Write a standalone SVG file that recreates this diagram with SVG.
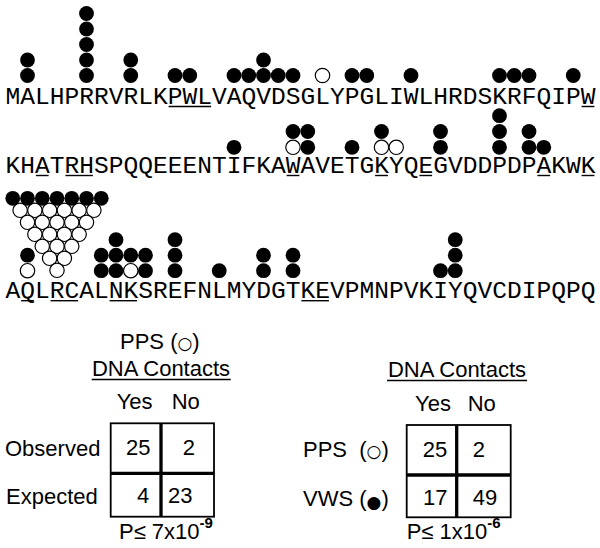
<svg xmlns="http://www.w3.org/2000/svg" width="600" height="548" viewBox="0 0 600 548">
<defs>
<style>
.seq{font-family:"Liberation Mono","DejaVu Sans Mono",monospace;font-size:24.58px;fill:#000}
.lab{font-family:"Liberation Sans",Arial,sans-serif;font-size:22px;fill:#000}
.sym{font-family:"DejaVu Sans",sans-serif;font-size:17px}
.sup{font-family:"Liberation Sans",Arial,sans-serif;font-size:15px;font-weight:bold}
.f{fill:#000}
.o{fill:#fff;stroke:#000;stroke-width:1.2}
.ul{stroke:#000;stroke-width:1.4}
.box{fill:none;stroke:#000;stroke-width:1.8}
.div{stroke:#000;stroke-width:3.3}
</style>
</defs>
<rect width="600" height="548" fill="#fff"/>

<g id="row1">
<text class="seq" x="5.375" y="104" textLength="590" lengthAdjust="spacing">MALHPRRVRLKPWLVAQVDSGLYPGLIWLHRDSKRFQIPW</text>
<g class="ul">
<line x1="168.6" y1="106.5" x2="211.1" y2="106.5"/>
<line x1="581.6" y1="106.5" x2="594.4" y2="106.5"/>
</g>
<g class="f">
<circle cx="27.5" cy="75.5" r="7.4"/><circle cx="27.5" cy="60" r="7.4"/>
<circle cx="86.5" cy="75.5" r="7.4"/><circle cx="86.5" cy="60" r="7.4"/><circle cx="86.5" cy="44.5" r="7.4"/><circle cx="86.5" cy="29" r="7.4"/><circle cx="86.5" cy="13.5" r="7.4"/>
<circle cx="130.75" cy="75.5" r="7.4"/><circle cx="130.75" cy="60" r="7.4"/>
<circle cx="175" cy="75.5" r="7.4"/><circle cx="189.75" cy="75.5" r="7.4"/>
<circle cx="234" cy="75.5" r="7.4"/><circle cx="248.75" cy="75.5" r="7.4"/><circle cx="263.5" cy="75.5" r="7.4"/><circle cx="263.5" cy="60" r="7.4"/><circle cx="278.25" cy="75.5" r="7.4"/><circle cx="293" cy="75.5" r="7.4"/>
<circle cx="352" cy="75.5" r="7.4"/><circle cx="366.75" cy="75.5" r="7.4"/>
<circle cx="411" cy="75.5" r="7.4"/>
<circle cx="499.5" cy="75.5" r="7.4"/><circle cx="514.25" cy="75.5" r="7.4"/><circle cx="529" cy="75.5" r="7.4"/>
<circle cx="573.25" cy="75.5" r="7.4"/>
</g>
<g class="o">
<circle cx="322.5" cy="75.5" r="7.2"/>
</g>
</g>

<g id="row2">
<text class="seq" x="5.375" y="173" textLength="590" lengthAdjust="spacing">KHATRHSPQQEEENTIFKAWAVETGKYQEGVDDPDPAKWK</text>
<g class="ul">
<line x1="35.9" y1="175.5" x2="48.6" y2="175.5"/>
<line x1="65.4" y1="175.5" x2="92.9" y2="175.5"/>
<line x1="286.6" y1="175.5" x2="299.4" y2="175.5"/>
<line x1="375.1" y1="175.5" x2="387.9" y2="175.5"/>
<line x1="419.4" y1="175.5" x2="432.1" y2="175.5"/>
<line x1="537.4" y1="175.5" x2="550.1" y2="175.5"/>
<line x1="581.6" y1="175.5" x2="594.4" y2="175.5"/>
</g>
<g class="f">
<circle cx="234" cy="147.3" r="7.4"/>
<circle cx="293" cy="131.5" r="7.4"/>
<circle cx="307.75" cy="147.3" r="7.4"/><circle cx="307.75" cy="131.5" r="7.4"/>
<circle cx="352" cy="147.3" r="7.4"/>
<circle cx="381.5" cy="131.5" r="7.4"/>
<circle cx="440.5" cy="147.3" r="7.4"/><circle cx="440.5" cy="131.5" r="7.4"/>
<circle cx="499.5" cy="147.3" r="7.4"/><circle cx="499.5" cy="131.5" r="7.4"/><circle cx="499.5" cy="115.7" r="7.4"/>
<circle cx="529" cy="147.3" r="7.4"/><circle cx="529" cy="131.5" r="7.4"/>
<circle cx="543.75" cy="147.3" r="7.4"/>
</g>
<g class="o">
<circle cx="293" cy="147.3" r="7.2"/>
<circle cx="381.5" cy="147.3" r="7.2"/>
<circle cx="396.25" cy="147.3" r="7.2"/>
</g>
</g>

<g id="row3">
<text class="seq" x="5.375" y="298" textLength="590" lengthAdjust="spacing">AQLRCALNKSREFNLMYDGTKEVPMNPVKIYQVCDIPQPQ</text>
<g class="ul">
<line x1="21.1" y1="300.7" x2="33.9" y2="300.7"/>
<line x1="50.6" y1="300.7" x2="78.1" y2="300.7"/>
<line x1="109.6" y1="300.7" x2="137.1" y2="300.7"/>
<line x1="301.4" y1="300.7" x2="328.9" y2="300.7"/>
</g>
<g class="o">
<circle cx="20.125" cy="210.3" r="7.2"/><circle cx="34.875" cy="210.3" r="7.2"/><circle cx="49.625" cy="210.3" r="7.2"/><circle cx="64.375" cy="210.3" r="7.2"/><circle cx="79.125" cy="210.3" r="7.2"/><circle cx="93.875" cy="210.3" r="7.2"/>
<circle cx="27.5" cy="222.3" r="7.2"/><circle cx="42.25" cy="222.3" r="7.2"/><circle cx="57" cy="222.3" r="7.2"/><circle cx="71.75" cy="222.3" r="7.2"/><circle cx="86.5" cy="222.3" r="7.2"/>
<circle cx="34.875" cy="234.3" r="7.2"/><circle cx="49.625" cy="234.3" r="7.2"/><circle cx="64.375" cy="234.3" r="7.2"/><circle cx="79.125" cy="234.3" r="7.2"/>
<circle cx="42.25" cy="246.3" r="7.2"/><circle cx="57" cy="246.3" r="7.2"/><circle cx="71.75" cy="246.3" r="7.2"/>
<circle cx="49.625" cy="258.3" r="7.2"/><circle cx="64.375" cy="258.3" r="7.2"/>
<circle cx="57" cy="270.3" r="7.2"/>
<circle cx="27.5" cy="270.7" r="7.2"/>
<circle cx="130.75" cy="270.7" r="7.2"/>
</g>
<g class="f">
<circle cx="12.75" cy="198.3" r="7.4"/><circle cx="27.5" cy="198.3" r="7.4"/><circle cx="42.25" cy="198.3" r="7.4"/><circle cx="57" cy="198.3" r="7.4"/><circle cx="71.75" cy="198.3" r="7.4"/><circle cx="86.5" cy="198.3" r="7.4"/><circle cx="101.25" cy="198.3" r="7.4"/>
<circle cx="27.5" cy="255.2" r="7.4"/>
<circle cx="101.25" cy="270.7" r="7.4"/><circle cx="101.25" cy="255.2" r="7.4"/>
<circle cx="116" cy="270.7" r="7.4"/><circle cx="116" cy="255.2" r="7.4"/><circle cx="116" cy="239.7" r="7.4"/>
<circle cx="130.75" cy="255.2" r="7.4"/>
<circle cx="145.5" cy="270.7" r="7.4"/><circle cx="145.5" cy="255.2" r="7.4"/>
<circle cx="175" cy="270.7" r="7.4"/><circle cx="175" cy="255.2" r="7.4"/><circle cx="175" cy="239.7" r="7.4"/>
<circle cx="219.25" cy="270.7" r="7.4"/>
<circle cx="263.5" cy="270.7" r="7.4"/><circle cx="263.5" cy="255.2" r="7.4"/>
<circle cx="293" cy="270.7" r="7.4"/><circle cx="293" cy="255.2" r="7.4"/>
<circle cx="440.5" cy="270.7" r="7.4"/>
<circle cx="455.25" cy="270.7" r="7.4"/><circle cx="455.25" cy="255.2" r="7.4"/><circle cx="455.25" cy="239.7" r="7.4"/>
</g>
</g>

<g id="table-left">
<text class="lab" x="120" y="349">PPS (<tspan class="sym">○</tspan>)</text>
<text class="lab" x="161" y="376" text-anchor="middle">DNA Contacts</text>
<line class="ul" x1="91.7" y1="379.5" x2="230.7" y2="379.5"/>
<text class="lab" x="116.7" y="409">Yes</text>
<text class="lab" x="171.7" y="409">No</text>
<rect class="box" x="110.7" y="423.3" width="103.3" height="93.4"/>
<line class="div" x1="161" y1="423.3" x2="161" y2="516.7"/>
<line class="div" x1="110.7" y1="473.3" x2="214" y2="473.3"/>
<text class="lab" x="5" y="456">Observed</text>
<text class="lab" x="6" y="504">Expected</text>
<text class="lab" x="126" y="455">25</text>
<text class="lab" x="182.7" y="455">2</text>
<text class="lab" x="137" y="503">4</text>
<text class="lab" x="168" y="503">23</text>
<text class="lab" x="119" y="539">P≤ 7x10<tspan class="sup" dy="-11">-9</tspan></text>
</g>

<g id="table-right">
<text class="lab" x="457" y="377" text-anchor="middle">DNA Contacts</text>
<line class="ul" x1="387" y1="380.5" x2="527" y2="380.5"/>
<text class="lab" x="415" y="410.5">Yes</text>
<text class="lab" x="467.7" y="410.5">No</text>
<rect class="box" x="406.7" y="425" width="104" height="92.3"/>
<line class="div" x1="456.7" y1="425" x2="456.7" y2="517.3"/>
<line class="div" x1="406.7" y1="475" x2="510.7" y2="475"/>
<text class="lab" x="303" y="457" xml:space="preserve" style="white-space:pre">PPS  (<tspan class="sym">○</tspan>)</text>
<text class="lab" x="303" y="506">VWS (<tspan class="sym" dy="2">●</tspan><tspan dy="-2">)</tspan></text>
<text class="lab" x="422.7" y="457">25</text>
<text class="lab" x="472.7" y="457">2</text>
<text class="lab" x="423" y="505">17</text>
<text class="lab" x="472.7" y="505">49</text>
<text class="lab" x="406.7" y="539">P≤ 1x10<tspan class="sup" dy="-11">-6</tspan></text>
</g>
</svg>
